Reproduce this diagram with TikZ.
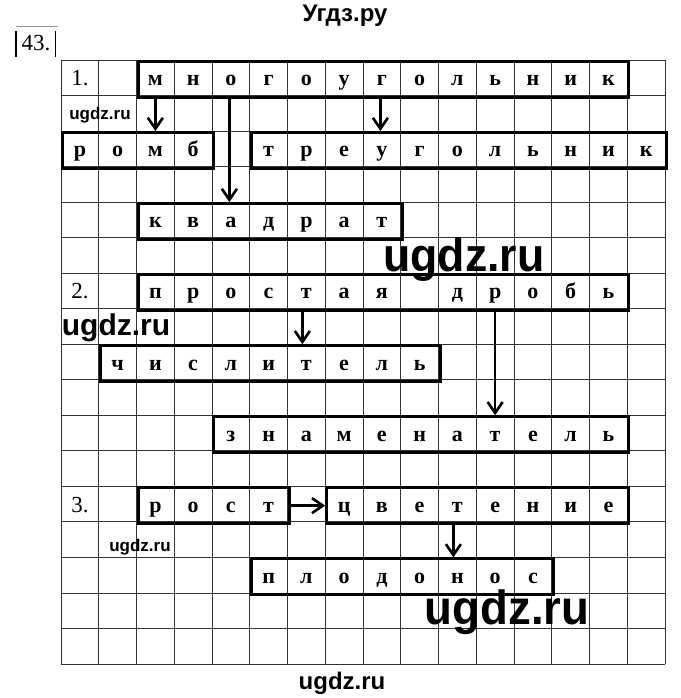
\documentclass[tikz,border=0pt]{standalone}
\usepackage{fontspec}
\setmainfont{Liberation Serif}
\newfontfamily\wmfont{Liberation Sans}
\usetikzlibrary{arrows.meta}
\def\cw{37.75}
\def\rh{35.53}
\newcommand\placeword[5]{%
  \node[wbox, minimum width={#4*\cw*1pt}, anchor=north west] (#1) at ({61+#2*\cw},{60+#3*\rh}) {};
  \foreach \lt [count=\i from 0] in {#5}
    \node[letter] (#1-\i) at ({61+(#2+\i+0.5)*\cw},{60+(#3+0.5)*\rh+8}) {\lt};
}
\tikzset{
  gridline/.style={draw=black!80, line width=0.9pt},
  wbox/.style={draw, line width=3pt, inner sep=0pt, minimum height={\rh*1pt}},
  letter/.style={anchor=base, inner sep=0pt, font=\bfseries\fontsize{22pt}{24pt}\selectfont},
  num/.style={anchor=base, inner sep=0pt, font=\fontsize{23pt}{25pt}\selectfont},
  arr/.style={line width=2.6pt, -{Straight Barb[length=11pt,width=15pt,line width=2.6pt]}},
  wm/.style={inner sep=0pt, font={\wmfont\bfseries\fontsize{#1pt}{#1pt}\selectfont}}
}
\begin{document}
\begin{tikzpicture}[x=1pt,y=-1pt]
\useasboundingbox (0,0) rectangle (680,698);
\fill[white] (0,0) rectangle (680,698);
% grid
\foreach \c in {0,...,16}
  \draw[gridline] ({61+\c*\cw},60) -- ({61+\c*\cw},{60+17*\rh});
\foreach \r in {0,...,17}
  \draw[gridline] (61,{60+\r*\rh}) -- ({61+16*\cw},{60+\r*\rh});
% heading
\node[wm=24] (title) at (345,16) {Угдз.ру};
\node[num] (task) at (36,51) {43.};
\draw[line width=1.4pt] (16,31) -- (16,57);
\draw[line width=1.4pt] (55.5,31) -- (55.5,57);
\draw[black!40, line width=0.6pt] (16,26) -- (58,26);
% numbers
\node[num] (n1) at (80,{60+0.5*\rh+8}) {1.};
\node[num] (n2) at (80,{60+6.5*\rh+8}) {2.};
\node[num] (n3) at (80,{60+12.5*\rh+8}) {3.};
% words
\placeword{mn}{2}{0}{13}{м,н,о,г,о,у,г,о,л,ь,н,и,к}
\placeword{rb}{0}{2}{4}{р,о,м,б}
\placeword{tr}{5}{2}{11}{т,р,е,у,г,о,л,ь,н,и,к}
\placeword{kv}{2}{4}{7}{к,в,а,д,р,а,т}
\placeword{pr}{2}{6}{13}{п,р,о,с,т,а,я,,д,р,о,б,ь}
\placeword{ch}{1}{8}{9}{ч,и,с,л,и,т,е,л,ь}
\placeword{zn}{4}{10}{11}{з,н,а,м,е,н,а,т,е,л,ь}
\placeword{ro}{2}{12}{4}{р,о,с,т}
\placeword{cv}{7}{12}{8}{ц,в,е,т,е,н,и,е}
\placeword{pl}{5}{14}{8}{п,л,о,д,о,н,о,с}
% arrows
\draw[arr] (mn-0 |- mn.south) -- (rb-2 |- rb.north);
\draw[arr] ([xshift=-1.5pt]mn-2 |- mn.south) -- ([xshift=-1.5pt]kv-2 |- kv.north);
\draw[arr] ([xshift=-1.5pt]mn-6 |- mn.south) -- ([xshift=-1.5pt]tr-3 |- tr.north);
\draw[arr] ([xshift=-4pt]pr-4 |- pr.south) -- ([xshift=-4pt]ch-5 |- ch.north);
\draw[arr] (pr-9 |- pr.south) -- (zn-7 |- zn.north);
\draw[arr] (ro.east) -- (cv.west);
\draw[arr] ([xshift=-4pt]cv-3 |- cv.south) -- ([xshift=-4pt]pl-5 |- pl.north);
% watermarks
\node[wm=17] (w1) at (100,115) {ugdz.ru};
\node[wm=47, xscale=0.95] (w2) at (464,259) {ugdz.ru};
\node[wm=30] (w3) at (116,328) {ugdz.ru};
\node[wm=17] (w4) at (140,547) {ugdz.ru};
\node[wm=48, xscale=0.95] (w5) at (507,612) {ugdz.ru};
\node[wm=24] (w6) at (342,683) {ugdz.ru};
\end{tikzpicture}
\end{document}
